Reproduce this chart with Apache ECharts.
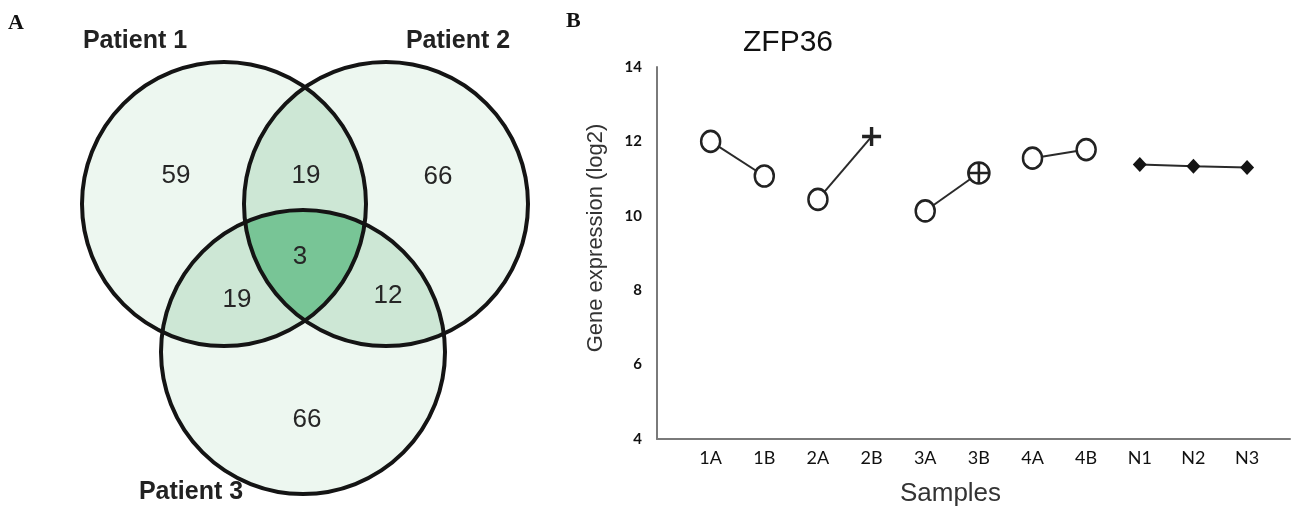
<!DOCTYPE html>
<html>
<head>
<meta charset="utf-8">
<script src="https://cdn.jsdelivr.net/npm/echarts@6/dist/echarts.min.js"></script>
<style>
  html, body { margin: 0; padding: 0; background: #fff; }
  #chart { width: 1296px; height: 512px; }
</style>
</head>
<body>
<div id="chart"></div>
<script>
// ---- panel A: overlap of genes between patients ----
const vennSets = ['Patient 1', 'Patient 2', 'Patient 3'];
const vennRegions = [[0], [1], [2], [0, 1], [0, 2], [1, 2], [0, 1, 2]];
const vennCounts = [59, 66, 66, 19, 19, 12, 3];

// ---- panel B: ZFP36 expression ----
const samples = ['1A', '1B', '2A', '2B', '3A', '3B', '4A', '4B', 'N1', 'N2', 'N3'];
const expression = [12.0, 11.07, 10.44, 12.13, 10.13, 11.15, 11.55, 11.78, 11.38, 11.33, 11.3];
const markerKinds = ['open', 'open', 'open', 'plus', 'open', 'circlePlus', 'open', 'open', 'diamond', 'diamond', 'diamond'];
const linkedRuns = [[0, 1], [2, 3], [4, 5], [6, 7], [8, 9, 10]];

// venn layout, in the units of panel A's hidden axes
const vennCircles = [[224, 204], [386, 204], [303, 352]];
const vennRadius = 142;
const setLabelAt = [[135, 41], [458, 41], [191, 492]];
const regionLabelAt = [[176, 176], [438, 177], [307, 420], [306, 176], [237, 300], [388, 296], [300, 257]];
const depthColors = ['#edf7f0', '#cde7d5', '#78c596'];

const chart = echarts.init(document.getElementById('chart'));

// outline of the intersection of a few discs (convex), as polygon points
function discIntersection(circles, ids) {
  const pts = [];
  ids.forEach(function (i) {
    const c = circles[i];
    for (let k = 0; k < 1440; k++) {
      const a = k / 1440 * Math.PI * 2;
      const x = c.x + c.r * Math.cos(a);
      const y = c.y + c.r * Math.sin(a);
      const inside = ids.every(function (j) {
        return j === i || Math.hypot(x - circles[j].x, y - circles[j].y) <= circles[j].r;
      });
      if (inside) pts.push([x, y]);
    }
  });
  let mx = 0, my = 0;
  pts.forEach(function (p) { mx += p[0]; my += p[1]; });
  mx /= pts.length; my /= pts.length;
  pts.sort(function (p, q) {
    return Math.atan2(p[1] - my, p[0] - mx) - Math.atan2(q[1] - my, q[0] - mx);
  });
  return pts;
}

function renderVenn(params, api) {
  const r = api.size([vennRadius, 0])[0];
  const circles = vennCircles.map(function (c) {
    const p = api.coord(c);
    return { x: p[0], y: p[1], r: r };
  });
  const children = [];
  // fills, deeper overlaps on top
  [1, 2, 3].forEach(function (depth) {
    vennRegions.forEach(function (ids) {
      if (ids.length !== depth) return;
      if (depth === 1) {
        const c = circles[ids[0]];
        children.push({ type: 'circle', shape: { cx: c.x, cy: c.y, r: c.r }, style: { fill: depthColors[0] } });
      } else {
        children.push({ type: 'polygon', shape: { points: discIntersection(circles, ids) }, style: { fill: depthColors[depth - 1] } });
      }
    });
  });
  circles.forEach(function (c) {
    children.push({ type: 'circle', shape: { cx: c.x, cy: c.y, r: c.r }, style: { fill: 'none', stroke: '#141414', lineWidth: 4 } });
  });
  return { type: 'group', children: children };
}

const markerStyles = {
  open: { symbol: 'circle', symbolSize: [19, 21], itemStyle: { color: '#fff', borderColor: '#222', borderWidth: 2.6 } },
  plus: { symbol: 'path://M0,10L20,10M10,0L10,20', symbolSize: 19, itemStyle: { color: '#222', borderColor: '#222', borderWidth: 3.4 } },
  circlePlus: { symbol: 'path://M20,10A10,10,0,1,1,0,10A10,10,0,1,1,20,10ZM0,10L20,10M10,0L10,20', symbolSize: 21, itemStyle: { color: '#fff', borderColor: '#222', borderWidth: 2.6 } },
  diamond: { symbol: 'diamond', symbolSize: [14, 15], itemStyle: { color: '#141414', borderWidth: 0 } }
};

const lineSeries = linkedRuns.map(function (run) {
  return {
    type: 'line',
    xAxisIndex: 0,
    yAxisIndex: 0,
    lineStyle: { color: '#2a2a2a', width: 2 },
    data: run.map(function (i) {
      const m = markerStyles[markerKinds[i]];
      return { value: [i, expression[i]], symbol: m.symbol, symbolSize: m.symbolSize, itemStyle: m.itemStyle };
    }),
    z: 3
  };
});

const option = {
  animation: false,
  backgroundColor: '#fff',
  graphic: [
    { type: 'text', x: 8, y: 12, style: { text: 'A', font: 'bold 22px "Liberation Serif"', fill: '#111' } },
    { type: 'text', x: 566, y: 10, style: { text: 'B', font: 'bold 22px "Liberation Serif"', fill: '#111' } },
    { type: 'text', x: 788, y: 43, style: { text: 'ZFP36', font: '30px "Liberation Sans"', fill: '#111', align: 'center', verticalAlign: 'middle', textAlign: 'center', textVerticalAlign: 'middle' } }
  ],
  grid: [
    { left: 657, top: 67, width: 633, height: 376 },
    { left: 0, top: 0, width: 540, height: 512 }
  ],
  xAxis: [
    {
      gridIndex: 0,
      type: 'value',
      min: -1,
      max: 10.8,
      interval: 1,
      name: 'Samples',
      nameLocation: 'middle',
      nameGap: 42,
      nameTextStyle: { fontFamily: 'Liberation Sans', fontSize: 26, color: '#333', padding: [0, 46, 0, 0] },
      axisLine: { onZero: false, lineStyle: { color: '#7a7a7a', width: 2 } },
      axisTick: { show: false },
      splitLine: { show: false },
      axisLabel: {
        margin: 10,
        fontFamily: 'Lato',
        fontSize: 18,
        color: '#111',
        formatter: function (v) {
          const k = Math.round(v);
          return Math.abs(v - k) < 1e-6 && k >= 0 && k < samples.length ? samples[k] : '';
        }
      }
    },
    { gridIndex: 1, type: 'value', min: 0, max: 540, show: false }
  ],
  yAxis: [
    {
      gridIndex: 0,
      type: 'value',
      min: 4,
      max: 14,
      interval: 2,
      name: 'Gene expression (log2)',
      nameLocation: 'middle',
      nameRotate: 90,
      nameGap: 50,
      nameTextStyle: { fontFamily: 'Liberation Sans', fontSize: 22, color: '#333', padding: [0, 0, 0, 30] },
      axisLine: { show: true, onZero: false, lineStyle: { color: '#7a7a7a', width: 2 } },
      axisTick: { show: false },
      splitLine: { show: false },
      axisLabel: { margin: 15, fontFamily: 'Lato', fontWeight: 'bold', fontSize: 15, color: '#111' }
    },
    { gridIndex: 1, type: 'value', min: 0, max: 512, inverse: true, show: false }
  ],
  series: [
    {
      type: 'custom',
      xAxisIndex: 1,
      yAxisIndex: 1,
      silent: true,
      clip: false,
      renderItem: renderVenn,
      data: [[0, 0]],
      z: 1
    },
    {
      type: 'scatter',
      xAxisIndex: 1,
      yAxisIndex: 1,
      silent: true,
      symbolSize: 0.1,
      itemStyle: { color: 'transparent', opacity: 1 },
      data: vennCounts.map(function (n, i) { return [regionLabelAt[i][0], regionLabelAt[i][1], n]; }),
      label: {
        show: true,
        position: 'inside',
        fontFamily: 'Liberation Sans',
        fontSize: 26,
        color: '#262626',
        opacity: 1,
        formatter: function (p) { return String(p.value[2]); }
      },
      z: 5
    },
    {
      type: 'scatter',
      xAxisIndex: 1,
      yAxisIndex: 1,
      silent: true,
      symbolSize: 0.1,
      itemStyle: { color: 'transparent', opacity: 1 },
      data: vennSets.map(function (s, i) { return { value: setLabelAt[i], name: s }; }),
      label: {
        show: true,
        position: 'inside',
        fontFamily: 'Liberation Sans',
        fontWeight: 'bold',
        fontSize: 25,
        color: '#222',
        opacity: 1,
        formatter: function (p) { return p.name; }
      },
      z: 5
    }
  ].concat(lineSeries)
};

chart.setOption(option);
</script>
</body>
</html>
